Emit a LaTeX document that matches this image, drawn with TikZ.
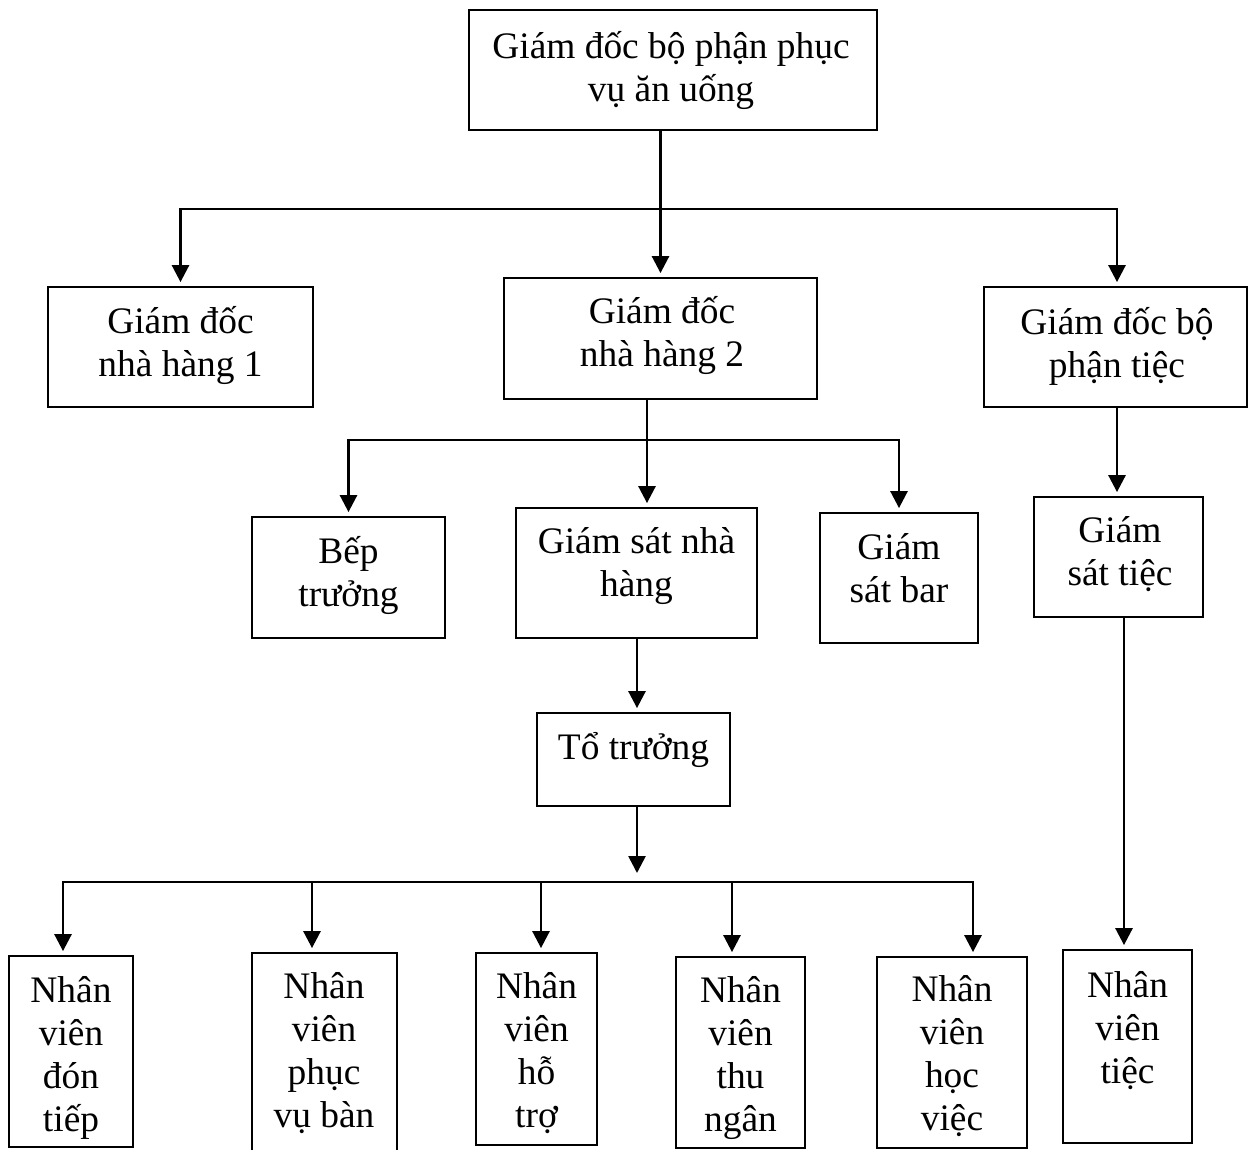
\documentclass[tikz,border=0pt]{standalone}
\usepackage{fontspec}
\setmainfont{Liberation Serif}
\usetikzlibrary{arrows.meta}
\newcommand{\fl}{\rule{0pt}{39.3pt}}
\begin{document}
\begin{tikzpicture}[x=1pt,y=-1pt,
  box/.style={draw, line width=1.8pt, inner sep=0pt, rectangle},
  txt/.style={anchor=north, inner sep=0pt, align=center, font=\fontsize{37.4}{43}\selectfont},
  conn/.style={line width=2.7pt, line cap=rect},
  arr/.style={line width=2.7pt, -{Triangle[width=17pt,length=17pt]}, shorten >=4pt}]
\useasboundingbox (0,0) rectangle (1248,1149);

% boxes
\node[box, minimum width=408pt, minimum height=120pt] (top)  at (673,70) {};
\node[box, minimum width=265pt, minimum height=120pt] (gd1)  at (180.5,347) {};
\node[box, minimum width=313pt, minimum height=121pt] (gd2)  at (660.5,338.5) {};
\node[box, minimum width=263pt, minimum height=120pt] (gdt)  at (1115.5,347) {};
\node[box, minimum width=193pt, minimum height=121pt] (bep)  at (348.5,577.5) {};
\node[box, minimum width=241pt, minimum height=130pt] (gsnh) at (636.5,573) {};
\node[box, minimum width=158pt, minimum height=130pt] (gsbar) at (899,578) {};
\node[box, minimum width=169pt, minimum height=120pt] (gst)  at (1118.5,557) {};
\node[box, minimum width=193pt, minimum height=93pt]  (to)   at (633.5,759.5) {};
\node[box, minimum width=124pt, minimum height=191pt] (n1)   at (71,1051.5) {};
\node[box, minimum width=145pt, minimum height=212pt] (n2)   at (324.5,1059) {};
\node[box, minimum width=121pt, minimum height=192pt] (n3)   at (536.5,1049) {};
\node[box, minimum width=129pt, minimum height=191pt] (n4)   at (740.5,1052.5) {};
\node[box, minimum width=150pt, minimum height=191pt] (n5)   at (952,1052.5) {};
\node[box, minimum width=129pt, minimum height=193pt] (n6)   at (1127.5,1046.5) {};

% texts (north = first baseline - 39.3)
\node[txt] (topt)  at (671,18.7)   {\fl Giám đốc bộ phận phục\\vụ ăn uống};
\node[txt] (gd1t)  at (180.5,293.7) {\fl Giám đốc\\nhà hàng 1};
\node[txt] (gd2t)  at (662,283.7)  {\fl Giám đốc\\ nhà hàng 2};
\node[txt] (gdtt)  at (1117,294.7) {\fl Giám đốc bộ\\phận tiệc};
\node[txt] (bept)  at (348.5,523.7) {\fl Bếp\\trưởng};
\node[txt] (gsnht) at (636.5,514.2) {\fl Giám sát nhà\\hàng};
\node[txt] (gsbart) at (899,520.2) {\fl Giám\\sát bar};
\node[txt] (gstt)  at (1120,502.7) {\fl Giám\\sát tiệc};
\node[txt] (tot)   at (633.5,720.2) {\fl Tổ trưởng};
\node[txt] (n1t)   at (71,962.7)   {\fl Nhân\\viên\\đón\\tiếp};
\node[txt] (n2t)   at (324,958.7)  {\fl Nhân\\viên\\phục\\vụ bàn};
\node[txt] (n3t)   at (536.5,958.7) {\fl Nhân\\viên\\hỗ\\trợ};
\node[txt] (n4t)   at (740.5,962.7) {\fl Nhân\\viên\\thu\\ngân};
\node[txt] (n5t)   at (952,961.7)  {\fl Nhân\\viên\\học\\việc};
\node[txt] (n6t)   at (1127.5,957.7) {\fl Nhân\\viên\\tiệc};

% helper coordinates
\coordinate (bus1) at (0,209);
\coordinate (j5) at (1117,0);
\coordinate (j2) at (647,440);
\coordinate (j3) at (637,882);
\coordinate (j3tip) at (637,873);
\coordinate (j4) at (1124,0);
\coordinate (bL) at (63,882);
\coordinate (b2) at (312,882);
\coordinate (b3) at (541,882);
\coordinate (b4) at (732,882);
\coordinate (bR) at (973,882);

% level 1
\draw[arr] (gd2.north |- top.south) -- (gd2.north);
\draw[conn] (gd1.north |- bus1) -- (j5 |- bus1);
\draw[arr] (gd1.north |- bus1) -- (gd1.north);
\draw[arr] (j5 |- bus1) -- (j5 |- gdt.north);

% level 2
\draw[arr] (j2 |- gd2.south) -- (j2 |- gsnh.north);
\draw[conn] (bep.north |- j2) -- (gsbar.north |- j2);
\draw[arr] (bep.north |- j2) -- (bep.north);
\draw[arr] (gsbar.north |- j2) -- (gsbar.north);
\draw[arr] (j5 |- gdt.south) -- (j5 |- gst.north);

% level 3
\draw[arr] (j3 |- gsnh.south) -- (j3 |- to.north);
\draw[arr, shorten >=0pt] (j3 |- to.south) -- (j3tip);
\draw[conn] (bL) -- (bR);
\draw[arr] (bL) -- (bL |- n1.north);
\draw[arr] (b2) -- (b2 |- n2.north);
\draw[arr] (b3) -- (b3 |- n3.north);
\draw[arr] (b4) -- (b4 |- n4.north);
\draw[arr] (bR) -- (bR |- n5.north);
\draw[arr] (j4 |- gst.south) -- (j4 |- n6.north);
\end{tikzpicture}
\end{document}
